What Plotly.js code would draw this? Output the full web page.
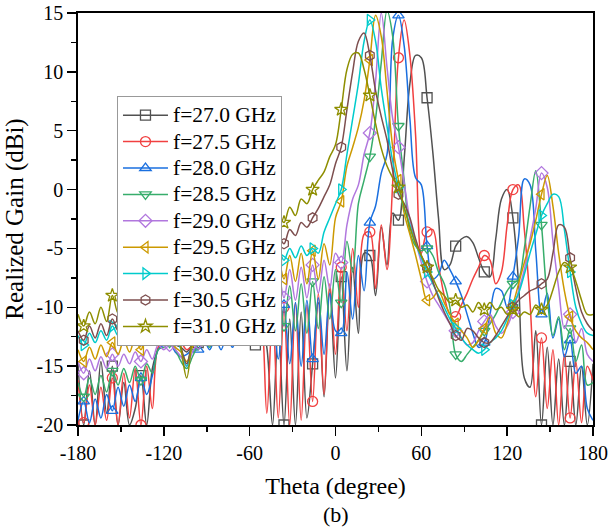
<!DOCTYPE html>
<html>
<head>
<meta charset="utf-8">
<script src="https://cdn.plot.ly/plotly-3.0.1.min.js"></script>
<style>html,body{margin:0;padding:0;background:#fff;}#chart{width:609px;height:528px;}</style>
</head>
<body>
<div id="chart"></div>
<script>
const theta = [-180,-176,-172,-168,-164,-160,-156,-152,-148,-144,-140,-136,-132,-128,-124,-120,-116,-112,-108,-104,-100,-96,-92,-88,-84,-80,-76,-72,-68,-64,-60,-56,-52,-48,-44,-40,-36,-32,-28,-24,-20,-16,-12,-8,-4,0,4,8,12,16,20,24,28,32,36,40,44,48,52,56,60,64,68,72,76,80,84,88,92,96,100,104,108,112,116,120,124,128,132,136,140,144,148,152,156,160,164,168,172,176,180];

const g270 = [-14.8,-20,-15.4,-20,-14.6,-19.0,-15.0,-20,-16.4,-20,
  -18.6,-15.8,-20,-15.2,-13.6,-13.0,-12.8,-13.2,-13.4,-13.8,
  -13.2,-13.0,-12.4,-13.2,-12.0,-13.0,-11.8,-13.0,-11.6,-13.0,
  -11.4,-13.2,-11.2,-13.4,-20,-11.6,-20,-11.0,-20,-10.4,
  -19.4,-14.8,-9.6,-17.6,-8.4,-16.0,-7.4,-15.4,-6.6,-12.2,
  -5.4,-5.6,-9.0,-3.2,-6.4,-2.0,-2.6,2.6,9.0,11.4,
  11.2,7.8,3.2,-2.4,-6.8,-6.4,-4.8,-4.2,-4.0,-4.5,
  -5.8,-7.0,-7.4,-4.2,-0.8,0.0,-2.4,-8.0,-16.0,-16.8,
  -12.0,-20,-13.4,-20,-14.4,-20,-14.6,-20,-15.0,-20,
  -14.8];
const g275 = [-16.2,-19.8,-16.6,-20,-16.8,-19.6,-16.0,-20,-15.6,-19.4,
  -15.2,-20,-15.0,-18.6,-13.4,-13.0,-12.6,-12.8,-13.0,-13.6,
  -13.2,-12.6,-12.0,-12.8,-11.6,-12.6,-11.4,-12.4,-11.2,-12.4,
  -11.0,-12.8,-11.0,-19.0,-10.4,-19.4,-10.0,-20,-9.6,-19.6,
  -9.8,-18.0,-8.8,-17.4,-8.0,-14.0,-6.6,-12.0,-5.0,-10.0,
  -3.8,-3.6,-8.4,-3.0,-6.8,0.6,11.2,14.4,11.4,4.6,
  -5.4,-3.6,-3.4,-6.4,-9.0,-10.6,-10.8,-9.8,-8.8,-7.6,
  -6.6,-5.6,-6.0,-8.0,-7.0,-3.0,0.0,0.4,-3.4,-9.6,
  -17.6,-12.6,-18.6,-13.6,-20,-14.0,-19.4,-14.6,-19.8,-15.0,
  -16.2];
const g280 = [-19.6,-18.0,-19.8,-17.8,-19.4,-17.4,-18.8,-16.8,-18.4,-16.6,
  -18.0,-16.0,-17.4,-15.8,-13.6,-13.2,-13.0,-13.8,-14.2,-14.0,
  -13.6,-13.6,-12.8,-13.6,-12.6,-13.6,-12.4,-13.4,-12.2,-13.2,
  -12.0,-13.0,-11.6,-12.8,-11.2,-14.4,-9.8,-14.8,-9.6,-15.0,
  -9.4,-14.4,-9.2,-14.0,-8.8,-12.0,-12.2,-7.0,-11.0,-5.6,
  -8.6,-2.8,-1.4,1.4,3.0,12.8,14.8,12.2,6.0,1.0,
  0.4,-4.8,-7.6,-7.2,-6.0,-6.8,-7.8,-9.0,-10.6,-12.2,
  -13.4,-13.0,-10.6,-8.4,-8.6,-10.0,-7.4,-4.0,0.9,0.4,
  -5.2,-10.6,-8.8,-12.6,-11.0,-14.2,-12.8,-15.6,-15.0,-18.6,
  -19.6];
const g285 = [-16.4,-17.6,-16.0,-17.4,-15.8,-17.2,-15.4,-16.6,-15.2,-16.4,
  -15.0,-16.2,-14.8,-15.6,-13.6,-13.4,-13.0,-13.6,-14.6,-15.2,
  -14.2,-13.2,-12.6,-13.4,-12.2,-13.0,-11.8,-12.6,-11.4,-12.2,
  -11.0,-11.8,-10.4,-11.4,-9.6,-8.4,-11.6,-8.2,-12.0,-8.0,
  -12.2,-7.8,-11.8,-7.4,-11.0,-6.8,-9.6,-4.4,-7.0,-1.2,
  0.8,2.8,6.0,10.8,15.2,13.0,5.4,0.8,-3.6,-4.8,
  -5.2,-5.0,-5.6,-7.0,-8.0,-10.0,-14.0,-14.6,-14.0,-13.4,
  -12.8,-12.0,-11.4,-10.6,-9.6,-8.6,-8.0,-7.6,-5.0,-1.4,
  1.6,-3.0,-9.2,-12.4,-10.8,-13.6,-11.8,-14.6,-13.2,-16.6,
  -16.4];
const g290 = [-14.6,-15.6,-14.4,-15.4,-14.2,-15.2,-14.0,-15.0,-14.0,-14.8,
  -13.8,-14.6,-13.6,-14.4,-13.2,-13.6,-13.2,-13.6,-14.2,-15.0,
  -13.8,-13.0,-12.4,-13.2,-11.8,-12.6,-11.2,-12.0,-10.6,-11.4,
  -10.0,-10.8,-9.2,-10.0,-8.4,-7.2,-9.2,-6.8,-9.4,-6.6,
  -9.2,-6.4,-8.8,-6.0,-8.4,-5.4,-6.2,-3.0,-0.8,0.4,
  3.0,4.8,9.2,15.0,10.4,6.0,3.6,0.6,-2.6,-4.4,
  -6.2,-7.8,-9.0,-9.8,-10.6,-11.4,-12.0,-12.6,-13.2,-13.0,
  -12.0,-11.2,-10.6,-11.6,-12.2,-11.6,-10.4,-8.6,-6.8,-4.2,
  -1.6,1.4,0.2,-4.4,-8.4,-11.8,-10.6,-13.0,-11.8,-14.0,
  -14.6];
const g295 = [-13.6,-14.6,-13.4,-14.4,-13.2,-14.2,-13.0,-14.0,-12.8,-13.8,
  -12.6,-13.6,-12.4,-13.2,-12.2,-13.0,-12.6,-13.4,-13.8,-14.6,
  -13.4,-12.4,-11.6,-12.4,-11.0,-11.8,-10.4,-11.2,-9.8,-10.6,
  -9.0,-9.8,-8.2,-9.0,-7.4,-6.0,-7.6,-5.6,-7.8,-5.4,
  -8.0,-5.2,-7.6,-4.6,-6.4,-2.4,-1.0,2.0,3.6,5.3,
  7.6,11.0,14.8,13.0,8.4,3.6,0.8,-2.0,-3.8,-5.6,
  -7.6,-9.4,-9.2,-8.6,-9.6,-10.6,-11.4,-12.0,-12.6,-13.4,
  -12.8,-11.8,-10.8,-12.2,-12.6,-11.4,-9.8,-8.0,-6.2,-4.6,
  -2.6,-0.4,1.2,-1.4,-5.4,-8.6,-10.8,-12.0,-12.6,-13.0,
  -13.6];
const g300 = [-12.4,-13.2,-12.2,-13.0,-12.0,-12.8,-11.6,-12.4,-11.4,-12.2,
  -11.2,-12.0,-11.0,-11.8,-10.8,-11.6,-11.0,-12.2,-13.6,-15.0,
  -12.8,-11.2,-10.2,-11.0,-9.6,-10.2,-8.8,-9.4,-8.0,-8.6,
  -7.2,-7.8,-6.4,-7.0,-5.6,-5.2,-6.0,-5.0,-5.8,-4.8,
  -5.6,-5.0,-5.4,-3.6,-2.4,-1.2,0.0,3.0,6.0,9.0,
  12.6,14.4,12.6,8.6,5.4,2.4,0.2,-1.6,-3.0,-4.6,
  -5.8,-7.0,-8.0,-9.0,-10.0,-11.0,-11.8,-12.6,-13.2,-13.6,
  -13.9,-13.6,-13.0,-12.6,-12.0,-11.0,-9.8,-8.8,-7.2,-5.4,
  -3.8,-2.2,-1.2,-0.4,-0.6,-3.4,-7.0,-10.0,-11.4,-12.2,
  -12.4];
const g305 = [-12.0,-12.8,-11.6,-12.6,-11.4,-12.4,-11.0,-12.0,-10.8,-11.6,
  -10.4,-11.2,-10.0,-10.8,-9.8,-10.6,-10.4,-11.8,-13.4,-14.8,
  -12.6,-10.8,-9.6,-10.2,-8.8,-9.4,-8.0,-8.6,-7.2,-7.8,
  -6.4,-7.0,-5.4,-6.0,-4.6,-4.0,-4.6,-3.4,-3.9,-2.8,
  -3.2,-2.4,-1.6,-0.6,0.4,2.2,3.6,6.8,10.0,12.6,
  13.3,11.4,8.4,6.2,4.2,1.6,-0.4,-1.2,-2.4,-4.2,
  -5.6,-6.6,-7.8,-9.2,-10.4,-11.4,-12.4,-12.8,-11.8,-12.0,
  -12.6,-13.0,-13.0,-12.4,-11.6,-10.8,-10.0,-9.4,-9.0,-8.6,
  -8.4,-8.0,-7.6,-5.4,-3.0,-3.2,-5.8,-8.4,-10.4,-11.4,
  -12.0];
const g310 = [-10.6,-11.6,-10.4,-11.4,-10.0,-11.2,-9.0,-10.5,-9.0,-10.0,
  -8.8,-9.8,-8.6,-9.6,-8.5,-9.5,-9.0,-11.0,-13.5,-16.0,
  -12.5,-10.0,-8.5,-9.0,-7.5,-8.0,-6.5,-7.2,-5.8,-6.5,
  -5.0,-5.6,-4.0,-4.5,-3.0,-2.2,-2.8,-1.5,-2.2,-0.8,
  -1.2,0.0,0.8,1.5,2.8,3.8,6.8,10.2,11.5,11.6,
  10.2,8.0,5.6,3.5,2.0,1.0,0.2,-1.5,-3.2,-4.6,
  -5.6,-6.6,-7.5,-8.5,-9.0,-9.6,-9.4,-10.0,-9.8,-10.4,
  -9.6,-10.2,-9.6,-10.2,-10.0,-10.6,-10.2,-10.8,-10.4,-10.6,
  -9.8,-10.2,-9.8,-8.5,-7.0,-6.2,-6.6,-7.8,-9.4,-10.6,
  -10.6];

const seriesNames = ['f=27.0 GHz','f=27.5 GHz','f=28.0 GHz','f=28.5 GHz','f=29.0 GHz','f=29.5 GHz','f=30.0 GHz','f=30.5 GHz','f=31.0 GHz'];
const xTickVals = [-180,-120,-60,0,60,120,180];
const xTickText = ['-180','-120','-60','0','60','120','180'];
const yTickVals = [-20,-15,-10,-5,0,5,10,15];
const yTickText = ['-20','-15','-10','-5','0','5','10','15'];

const series = [g270,g275,g280,g285,g290,g295,g300,g305,g310];
const colors = ['#515151','#F14040','#1A6FDF','#37AD6B','#B177DE','#CC9900','#00CBCC','#7D4E4E','#8E8E00'];
const symbols = ['square-open','circle-open','triangle-up-open','triangle-down-open','diamond-open','triangle-left-open','triangle-right-open','hexagon-open','star-open'];

const markerIdx = theta.map((t,i)=>i).filter(i => i % 5 === 1);

const traces = [];
series.forEach((ys,k)=>{
  traces.push({x: theta, y: ys, mode:'lines', type:'scatter',
    line:{color:colors[k], width:1.5, shape:'spline', smoothing:1},
    showlegend:false, hoverinfo:'skip'});
  traces.push({x: markerIdx.map(i=>theta[i]), y: markerIdx.map(i=>ys[i]), mode:'markers', type:'scatter',
    marker:{symbol:symbols[k], color:colors[k], size:10, line:{width:1.3, color:colors[k]}},
    showlegend:false, hoverinfo:'skip'});
});
series.forEach((ys,k)=>{
  traces.push({x:[null], y:[null], mode:'lines+markers', type:'scatter',
    name: '<span style="font-size:21.5px">' + seriesNames[k] + '</span>',
    line:{color:colors[k], width:1.5},
    marker:{symbol:symbols[k], color:colors[k], size:10, line:{width:1.3, color:colors[k]}}});
});

const fontFam = '"Liberation Serif", "Times New Roman", serif';
const layout = {
  width:609, height:528,
  margin:{l:78, r:16, t:13, b:103},
  paper_bgcolor:'#fff', plot_bgcolor:'#fff',
  font:{family:fontFam, color:'#000', size:20},
  showlegend:true,
  xaxis:{range:[-180,180], tickmode:'array', tickvals:xTickVals, ticktext:xTickText,
    ticks:'outside', ticklen:9, tickwidth:1.5, tickcolor:'#000',
    showline:true, linecolor:'#000', linewidth:1.8, mirror:true,
    showgrid:false, zeroline:false, tickfont:{size:20, family:fontFam},
    title:{text:'Theta (degree)', font:{size:24, family:fontFam}, standoff:14},
    minor:{tickmode:'linear', tick0:-180, dtick:30, ticks:'outside', ticklen:5, tickwidth:1.5, tickcolor:'#000', showgrid:false}},
  yaxis:{range:[-20,15], tickmode:'array', tickvals:yTickVals, ticktext:yTickText,
    ticks:'outside', ticklen:9, tickwidth:1.5, tickcolor:'#000',
    showline:true, linecolor:'#000', linewidth:1.8, mirror:true,
    showgrid:false, zeroline:false, tickfont:{size:20, family:fontFam},
    title:{text:'Realized Gain (dBi)', font:{size:25, family:fontFam}, standoff:6},
    minor:{tickmode:'linear', tick0:-20, dtick:2.5, ticks:'outside', ticklen:5, tickwidth:1.5, tickcolor:'#000', showgrid:false}},
  legend:{x:0.0757, xanchor:'left', y:0.7985, yanchor:'top', bgcolor:'#fff', bordercolor:'#999', borderwidth:1,
    font:{size:18, family:fontFam, color:'#000'}, itemwidth:45, tracegroupgap:0},
  annotations:[{text:'(b)', xref:'paper', yref:'paper', x:0.5, y:-0.218, xanchor:'center', yanchor:'middle', showarrow:false, font:{size:22, family:fontFam, color:'#000'}}]
};
Plotly.newPlot('chart', traces, layout, {displayModeBar:false, staticPlot:true});
</script>
</body>
</html>
